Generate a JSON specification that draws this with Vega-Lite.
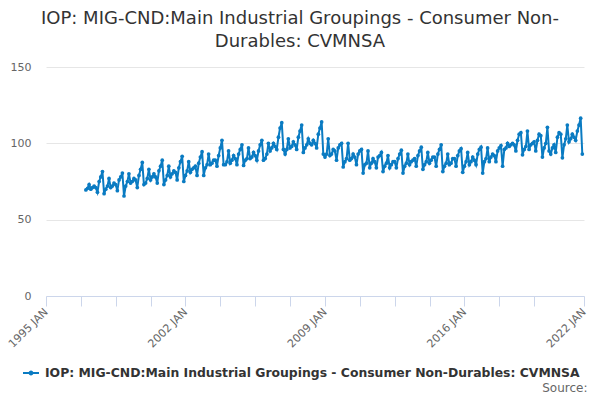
{
"$schema":"https://vega.github.io/schema/vega-lite/v6.json",
"autosize":{"type":"none"},
"width":538,"height":229,
"padding":{"left":46,"top":67,"right":16,"bottom":104},
"background":"white",
"config":{"font":"DejaVu Sans","view":{"stroke":null}},
"title":{"text":["IOP: MIG-CND:Main Industrial Groupings - Consumer Non-","Durables: CVMNSA"],"fontSize":18,"fontWeight":"normal","color":"#333333","anchor":"middle","dx":-15,"offset":10,"lineHeight":23},
"data":{"values":[
{"date":"1997-01-01","value":69.5},{"date":"1997-02-01","value":70.5},{"date":"1997-03-01","value":73},{"date":"1997-04-01","value":70},{"date":"1997-05-01","value":71},{"date":"1997-06-01","value":72},{"date":"1997-07-01","value":71},{"date":"1997-08-01","value":68},{"date":"1997-09-01","value":75},{"date":"1997-10-01","value":78},{"date":"1997-11-01","value":81.5},{"date":"1997-12-01","value":67},
{"date":"1998-01-01","value":70},{"date":"1998-02-01","value":72},{"date":"1998-03-01","value":77},{"date":"1998-04-01","value":71},{"date":"1998-05-01","value":72},{"date":"1998-06-01","value":74},{"date":"1998-07-01","value":73},{"date":"1998-08-01","value":69},{"date":"1998-09-01","value":76},{"date":"1998-10-01","value":78},{"date":"1998-11-01","value":80.5},{"date":"1998-12-01","value":65.5},
{"date":"1999-01-01","value":72},{"date":"1999-02-01","value":75},{"date":"1999-03-01","value":80},{"date":"1999-04-01","value":74},{"date":"1999-05-01","value":75},{"date":"1999-06-01","value":77},{"date":"1999-07-01","value":76},{"date":"1999-08-01","value":71},{"date":"1999-09-01","value":79},{"date":"1999-10-01","value":83},{"date":"1999-11-01","value":87.5},{"date":"1999-12-01","value":73},
{"date":"2000-01-01","value":74},{"date":"2000-02-01","value":77},{"date":"2000-03-01","value":83},{"date":"2000-04-01","value":76},{"date":"2000-05-01","value":78},{"date":"2000-06-01","value":80},{"date":"2000-07-01","value":78},{"date":"2000-08-01","value":74},{"date":"2000-09-01","value":82},{"date":"2000-10-01","value":85},{"date":"2000-11-01","value":89},{"date":"2000-12-01","value":73},
{"date":"2001-01-01","value":76},{"date":"2001-02-01","value":79},{"date":"2001-03-01","value":85},{"date":"2001-04-01","value":78},{"date":"2001-05-01","value":80},{"date":"2001-06-01","value":82},{"date":"2001-07-01","value":81},{"date":"2001-08-01","value":76},{"date":"2001-09-01","value":84},{"date":"2001-10-01","value":88},{"date":"2001-11-01","value":91.5},{"date":"2001-12-01","value":75},
{"date":"2002-01-01","value":79},{"date":"2002-02-01","value":82},{"date":"2002-03-01","value":88},{"date":"2002-04-01","value":81},{"date":"2002-05-01","value":83},{"date":"2002-06-01","value":84},{"date":"2002-07-01","value":85},{"date":"2002-08-01","value":79},{"date":"2002-09-01","value":87},{"date":"2002-10-01","value":91},{"date":"2002-11-01","value":94.5},{"date":"2002-12-01","value":79},
{"date":"2003-01-01","value":84},{"date":"2003-02-01","value":86},{"date":"2003-03-01","value":93},{"date":"2003-04-01","value":86},{"date":"2003-05-01","value":87},{"date":"2003-06-01","value":89},{"date":"2003-07-01","value":89},{"date":"2003-08-01","value":85},{"date":"2003-09-01","value":92},{"date":"2003-10-01","value":97},{"date":"2003-11-01","value":102},{"date":"2003-12-01","value":86},
{"date":"2004-01-01","value":86},{"date":"2004-02-01","value":88},{"date":"2004-03-01","value":95},{"date":"2004-04-01","value":87},{"date":"2004-05-01","value":89},{"date":"2004-06-01","value":92},{"date":"2004-07-01","value":90},{"date":"2004-08-01","value":86},{"date":"2004-09-01","value":93},{"date":"2004-10-01","value":96},{"date":"2004-11-01","value":99},{"date":"2004-12-01","value":85.5},
{"date":"2005-01-01","value":89},{"date":"2005-02-01","value":90},{"date":"2005-03-01","value":97},{"date":"2005-04-01","value":90},{"date":"2005-05-01","value":91},{"date":"2005-06-01","value":94},{"date":"2005-07-01","value":92},{"date":"2005-08-01","value":89},{"date":"2005-09-01","value":95},{"date":"2005-10-01","value":99},{"date":"2005-11-01","value":102},{"date":"2005-12-01","value":89},
{"date":"2006-01-01","value":90},{"date":"2006-02-01","value":93},{"date":"2006-03-01","value":100},{"date":"2006-04-01","value":95},{"date":"2006-05-01","value":97},{"date":"2006-06-01","value":100},{"date":"2006-07-01","value":98},{"date":"2006-08-01","value":96},{"date":"2006-09-01","value":104},{"date":"2006-10-01","value":110},{"date":"2006-11-01","value":113.5},{"date":"2006-12-01","value":96},
{"date":"2007-01-01","value":93},{"date":"2007-02-01","value":96},{"date":"2007-03-01","value":103},{"date":"2007-04-01","value":97},{"date":"2007-05-01","value":98},{"date":"2007-06-01","value":101},{"date":"2007-07-01","value":99},{"date":"2007-08-01","value":96},{"date":"2007-09-01","value":104},{"date":"2007-10-01","value":108},{"date":"2007-11-01","value":112},{"date":"2007-12-01","value":94},
{"date":"2008-01-01","value":97},{"date":"2008-02-01","value":99},{"date":"2008-03-01","value":103},{"date":"2008-04-01","value":100},{"date":"2008-05-01","value":99},{"date":"2008-06-01","value":102},{"date":"2008-07-01","value":100},{"date":"2008-08-01","value":97},{"date":"2008-09-01","value":106},{"date":"2008-10-01","value":110},{"date":"2008-11-01","value":114},{"date":"2008-12-01","value":93},
{"date":"2009-01-01","value":91},{"date":"2009-02-01","value":93},{"date":"2009-03-01","value":103},{"date":"2009-04-01","value":92},{"date":"2009-05-01","value":93},{"date":"2009-06-01","value":96},{"date":"2009-07-01","value":95},{"date":"2009-08-01","value":89},{"date":"2009-09-01","value":97},{"date":"2009-10-01","value":99},{"date":"2009-11-01","value":100},{"date":"2009-12-01","value":84.5},
{"date":"2010-01-01","value":88},{"date":"2010-02-01","value":90},{"date":"2010-03-01","value":100},{"date":"2010-04-01","value":89},{"date":"2010-05-01","value":90},{"date":"2010-06-01","value":93},{"date":"2010-07-01","value":91},{"date":"2010-08-01","value":86},{"date":"2010-09-01","value":93},{"date":"2010-10-01","value":95},{"date":"2010-11-01","value":96},{"date":"2010-12-01","value":80.5},
{"date":"2011-01-01","value":86},{"date":"2011-02-01","value":87},{"date":"2011-03-01","value":95},{"date":"2011-04-01","value":84},{"date":"2011-05-01","value":87},{"date":"2011-06-01","value":90},{"date":"2011-07-01","value":88},{"date":"2011-08-01","value":84},{"date":"2011-09-01","value":91},{"date":"2011-10-01","value":92},{"date":"2011-11-01","value":94},{"date":"2011-12-01","value":81.5},
{"date":"2012-01-01","value":85},{"date":"2012-02-01","value":87},{"date":"2012-03-01","value":92},{"date":"2012-04-01","value":84},{"date":"2012-05-01","value":86},{"date":"2012-06-01","value":88},{"date":"2012-07-01","value":88},{"date":"2012-08-01","value":84},{"date":"2012-09-01","value":90},{"date":"2012-10-01","value":93},{"date":"2012-11-01","value":95.5},{"date":"2012-12-01","value":80.5},
{"date":"2013-01-01","value":85},{"date":"2013-02-01","value":87},{"date":"2013-03-01","value":93},{"date":"2013-04-01","value":86},{"date":"2013-05-01","value":88},{"date":"2013-06-01","value":89},{"date":"2013-07-01","value":90},{"date":"2013-08-01","value":85},{"date":"2013-09-01","value":92},{"date":"2013-10-01","value":95},{"date":"2013-11-01","value":97.5},{"date":"2013-12-01","value":83},
{"date":"2014-01-01","value":86},{"date":"2014-02-01","value":88},{"date":"2014-03-01","value":94},{"date":"2014-04-01","value":87},{"date":"2014-05-01","value":89},{"date":"2014-06-01","value":91},{"date":"2014-07-01","value":91},{"date":"2014-08-01","value":85},{"date":"2014-09-01","value":93},{"date":"2014-10-01","value":96},{"date":"2014-11-01","value":99},{"date":"2014-12-01","value":81.5},
{"date":"2015-01-01","value":85},{"date":"2015-02-01","value":87},{"date":"2015-03-01","value":93},{"date":"2015-04-01","value":86},{"date":"2015-05-01","value":87},{"date":"2015-06-01","value":90},{"date":"2015-07-01","value":90},{"date":"2015-08-01","value":85},{"date":"2015-09-01","value":92},{"date":"2015-10-01","value":95},{"date":"2015-11-01","value":96.5},{"date":"2015-12-01","value":81},
{"date":"2016-01-01","value":85},{"date":"2016-02-01","value":88},{"date":"2016-03-01","value":94},{"date":"2016-04-01","value":86},{"date":"2016-05-01","value":88},{"date":"2016-06-01","value":91},{"date":"2016-07-01","value":89},{"date":"2016-08-01","value":86},{"date":"2016-09-01","value":93},{"date":"2016-10-01","value":96},{"date":"2016-11-01","value":97.5},{"date":"2016-12-01","value":80.5},
{"date":"2017-01-01","value":88},{"date":"2017-02-01","value":90},{"date":"2017-03-01","value":97},{"date":"2017-04-01","value":88},{"date":"2017-05-01","value":91},{"date":"2017-06-01","value":93},{"date":"2017-07-01","value":92},{"date":"2017-08-01","value":88},{"date":"2017-09-01","value":95},{"date":"2017-10-01","value":97},{"date":"2017-11-01","value":98.5},{"date":"2017-12-01","value":85},
{"date":"2018-01-01","value":96},{"date":"2018-02-01","value":97},{"date":"2018-03-01","value":100},{"date":"2018-04-01","value":98},{"date":"2018-05-01","value":99},{"date":"2018-06-01","value":100},{"date":"2018-07-01","value":99},{"date":"2018-08-01","value":95},{"date":"2018-09-01","value":102},{"date":"2018-10-01","value":106},{"date":"2018-11-01","value":107},{"date":"2018-12-01","value":92.5},
{"date":"2019-01-01","value":96},{"date":"2019-02-01","value":98},{"date":"2019-03-01","value":108},{"date":"2019-04-01","value":96},{"date":"2019-05-01","value":99},{"date":"2019-06-01","value":100},{"date":"2019-07-01","value":101},{"date":"2019-08-01","value":95},{"date":"2019-09-01","value":102},{"date":"2019-10-01","value":106},{"date":"2019-11-01","value":105},{"date":"2019-12-01","value":91},
{"date":"2020-01-01","value":97},{"date":"2020-02-01","value":100},{"date":"2020-03-01","value":110.5},{"date":"2020-04-01","value":95},{"date":"2020-05-01","value":93},{"date":"2020-06-01","value":97},{"date":"2020-07-01","value":99},{"date":"2020-08-01","value":94},{"date":"2020-09-01","value":104},{"date":"2020-10-01","value":107},{"date":"2020-11-01","value":106},{"date":"2020-12-01","value":90.5},
{"date":"2021-01-01","value":99},{"date":"2021-02-01","value":103},{"date":"2021-03-01","value":112},{"date":"2021-04-01","value":101},{"date":"2021-05-01","value":103},{"date":"2021-06-01","value":106},{"date":"2021-07-01","value":104},{"date":"2021-08-01","value":102},{"date":"2021-09-01","value":108},{"date":"2021-10-01","value":112},{"date":"2021-11-01","value":116.5},{"date":"2021-12-01","value":93}
]},
"mark":{"type":"line","strokeWidth":2,"point":{"filled":true,"size":14},"clip":false},
"encoding":{
"x":{"field":"date","type":"temporal",
 "scale":{"domain":[{"year":1995,"month":1,"date":1,"utc":true},{"year":2022,"month":1,"date":1,"utc":true}],"nice":false},
 "axis":{"title":"Source:","titleAnchor":"end","titleAlign":"right","titleX":541,"titleY":95,"titleBaseline":"alphabetic","titleFontSize":12,"titleFontWeight":"normal","titleColor":"#666666",
  "values":[{"year":1995,"month":1,"date":1,"utc":true},{"year":1996,"month":10,"date":1,"utc":true},{"year":1998,"month":7,"date":1,"utc":true},{"year":2000,"month":4,"date":1,"utc":true},{"year":2002,"month":1,"date":1,"utc":true},{"year":2003,"month":10,"date":1,"utc":true},{"year":2005,"month":7,"date":1,"utc":true},{"year":2007,"month":4,"date":1,"utc":true},{"year":2009,"month":1,"date":1,"utc":true},{"year":2010,"month":10,"date":1,"utc":true},{"year":2012,"month":7,"date":1,"utc":true},{"year":2014,"month":4,"date":1,"utc":true},{"year":2016,"month":1,"date":1,"utc":true},{"year":2017,"month":10,"date":1,"utc":true},{"year":2019,"month":7,"date":1,"utc":true},{"year":2022,"month":1,"date":1,"utc":true}],
  "labelExpr":"utcmonth(datum.value)==0 ? utcFormat(datum.value,'%Y') + ' JAN' : ''",
  "labelAngle":-45,"labelAlign":"right","labelBaseline":"middle","labelFontSize":11,"labelColor":"#666666","labelPadding":4,"labelOverlap":false,"labelBound":false,"labelFlush":false,
  "grid":false,"domainColor":"#ccd6eb","tickColor":"#ccd6eb","tickSize":10}},
"y":{"field":"value","type":"quantitative",
 "scale":{"domain":[0,150],"nice":false},
 "axis":{"title":null,"values":[0,50,100,150],"domain":false,"ticks":false,"labelPadding":15,"labelFontSize":11,"labelColor":"#666666","gridColor":"#e6e6e6"}},
"color":{"datum":"IOP: MIG-CND:Main Industrial Groupings - Consumer Non-Durables: CVMNSA","type":"nominal",
 "scale":{"range":["#0a7bc2"]},
 "legend":{"title":null,"orient":"none","legendX":-23,"legendY":298,"direction":"horizontal",
  "symbolType":"M-1,-0.12L1,-0.12L1,0.12L-1,0.12Z M0.3,0A0.3,0.3,0,1,1,-0.3,0A0.3,0.3,0,1,1,0.3,0Z",
  "symbolSize":256,"symbolStrokeWidth":0,"labelFontSize":12.4,"labelFontWeight":"bold","labelColor":"#333333","labelLimit":700,"labelOffset":6}}
}
}
